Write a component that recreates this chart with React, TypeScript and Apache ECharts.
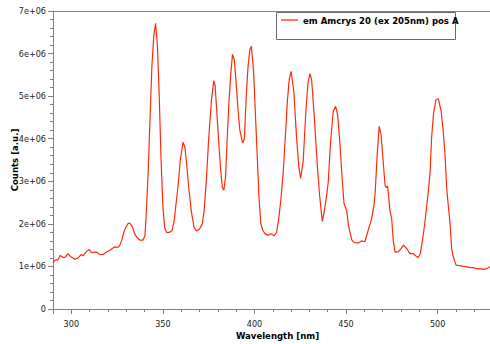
import React, { useEffect, useRef } from 'react';
import * as echarts from 'echarts';

const seriesName = 'em Amcrys 20 (ex 205nm) pos A';
const xAxisTitle = 'Wavelength [nm]';
const yAxisTitle = 'Counts [a.u.]';

const wavelengths = [
  290, 291.5, 292.7, 294, 295.5, 296.8, 298.2, 300, 301.9, 303.7,
  305.5, 306.5, 307.3, 308.6, 309.7, 311, 312.3, 313.7, 315.5, 317.3,
  319.2, 321, 323.7, 325.5, 326.5, 327.4, 328.5, 329.5, 331, 332,
  333.4, 334.6, 335.6, 337.4, 339.2, 340.2, 341, 342, 343, 344,
  345, 346, 347, 348, 349, 350, 351, 352, 353.5, 355,
  356.1, 357, 358.3, 359.5, 361, 362, 363, 364, 365.5, 367,
  368.4, 370, 371.5, 372.5, 373.8, 375, 376.5, 377.8, 378.5, 379.5,
  380.5, 381.6, 382.5, 383.3, 384.2, 385, 386, 387, 388, 389,
  390, 391.1, 392, 393.5, 394.5, 395.5, 396.5, 397.5, 398.3, 399.5,
  400.5, 401.5, 402.5, 403.5, 404.5, 405.7, 407.5, 409, 410.8, 412.1,
  413.2, 414.5, 415.7, 416.6, 418, 419, 420, 421.5, 423, 424.3,
  425.2, 426.6, 428, 429.2, 430.3, 431.2, 432.6, 434.3, 435.5, 437,
  438.1, 439.2, 440.3, 441.5, 443, 444.3, 445.4, 446.7, 447.8, 448.9,
  450.3, 451.2, 452.1, 453.2, 454.5, 456.7, 458.5, 460.3, 462.1, 464,
  465.4, 466, 467, 468.1, 469.1, 470.2, 471.3, 472, 472.7, 474,
  474.9, 475.8, 476.7, 478.5, 480, 481.3, 482.2, 483.1, 484.9, 486.7,
  488, 489.4, 490.5, 491.3, 492.2, 493.1, 494.9, 495.9, 496.7, 497.8,
  499.1, 500.4, 501.9, 503, 504, 505, 506.8, 507.7, 508.6, 510.1,
  512, 514.1, 516, 517.8, 519.5, 521.4, 523, 525, 527, 528.6,
];

const counts = [
  1.09e6, 1.16e6, 1.15e6, 1.26e6, 1.21e6, 1.22e6, 1.3e6, 1.22e6, 1.17e6, 1.2e6,
  1.28e6, 1.25e6, 1.3e6, 1.36e6, 1.4e6, 1.33e6, 1.33e6, 1.34e6, 1.28e6, 1.28e6,
  1.34e6, 1.38e6, 1.46e6, 1.45e6, 1.5e6, 1.6e6, 1.78e6, 1.9e6, 2.01e6, 2.01e6,
  1.93e6, 1.76e6, 1.69e6, 1.62e6, 1.62e6, 1.72e6, 2.3e6, 3.25e6, 4.5e6, 5.7e6,
  6.4e6, 6.71e6, 6.2e6, 5.0e6, 3.5e6, 2.4e6, 1.9e6, 1.8e6, 1.8e6, 1.84e6,
  2.05e6, 2.4e6, 2.9e6, 3.5e6, 3.92e6, 3.8e6, 3.4e6, 2.9e6, 2.3e6, 1.92e6,
  1.83e6, 1.88e6, 2.0e6, 2.3e6, 3.08e6, 4.0e6, 4.9e6, 5.36e6, 5.25e6, 4.6e6,
  3.9e6, 3.23e6, 2.85e6, 2.79e6, 3.1e6, 3.9e6, 4.8e6, 5.5e6, 5.98e6, 5.85e6,
  5.3e6, 4.64e6, 4.2e6, 3.9e6, 4.0e6, 5.0e6, 5.7e6, 6.1e6, 6.17e6, 5.6e6,
  4.6e6, 3.6e6, 2.6e6, 2.0e6, 1.85e6, 1.77e6, 1.73e6, 1.77e6, 1.72e6, 1.81e6,
  2.1e6, 2.6e6, 3.22e6, 3.86e6, 4.9e6, 5.4e6, 5.58e6, 5.11e6, 4.02e6, 3.31e6,
  3.07e6, 3.47e6, 4.6e6, 5.3e6, 5.53e6, 5.39e6, 4.56e6, 3.39e6, 2.7e6, 2.06e6,
  2.29e6, 2.6e6, 2.99e6, 3.9e6, 4.64e6, 4.76e6, 4.56e6, 3.86e6, 3.1e6, 2.48e6,
  2.32e6, 2.0e6, 1.81e6, 1.62e6, 1.56e6, 1.55e6, 1.6e6, 1.58e6, 1.85e6, 2.13e6,
  2.48e6, 2.8e6, 3.62e6, 4.29e6, 4.1e6, 3.5e6, 2.92e6, 2.85e6, 2.89e6, 2.3e6,
  2.13e6, 1.6e6, 1.34e6, 1.34e6, 1.42e6, 1.5e6, 1.47e6, 1.42e6, 1.3e6, 1.3e6,
  1.25e6, 1.21e6, 1.3e6, 1.5e6, 1.75e6, 2.05e6, 2.76e6, 3.22e6, 4.02e6, 4.6e6,
  4.92e6, 4.94e6, 4.65e6, 4.2e6, 3.64e6, 2.8e6, 2.0e6, 1.4e6, 1.22e6, 1.03e6,
  1.02e6, 1.0e6, 0.99e6, 0.97e6, 0.97e6, 0.95e6, 0.95e6, 0.93e6, 0.95e6, 0.99e6,
];

const X_MIN = 290;
const X_MAX = 528.6;
const Y_MIN = 0;
const Y_MAX = 7e6;
const Y_STEP = 1e6;

const FONT = '"DejaVu Sans Condensed", "DejaVu Sans", sans-serif';
const AXIS_GRAY = '#808080';
const LINE_RED = '#ff2a0a';

export default function App() {
  const ref = useRef<HTMLDivElement>(null);

  useEffect(() => {
    if (!ref.current) return;
    const chart = echarts.init(ref.current, undefined, { renderer: 'svg' });
    const data = wavelengths.map((w, i) => [w, counts[i]]);
    chart.setOption({
      animation: false,
      backgroundColor: '#ffffff',
      textStyle: { fontFamily: FONT },
      grid: { left: 53, right: 0, top: 11, bottom: 35, containLabel: false, outerBoundsMode: 'none' },
      graphic: [
        {
          type: 'rect',
          shape: { x: 276.5, y: 12.5, width: 179, height: 27 },
          style: { fill: '#ffffff', stroke: '#6a6a6a', lineWidth: 1 },
          z: 3,
        },
      ],
      legend: {
        show: true,
        left: 281,
        top: 15,
        padding: 0,
        icon: 'rect',
        itemWidth: 17,
        itemHeight: 1.3,
        itemGap: 5,
        data: [seriesName],
        textStyle: { fontFamily: FONT, fontWeight: 'bold', fontSize: 9.5, color: '#000' },
      },
      xAxis: [
        {
          type: 'value',
          min: X_MIN,
          max: X_MAX,
          splitNumber: 5,
          name: xAxisTitle,
          nameLocation: 'middle',
          nameGap: 21,
          nameMoveOverlap: false,
          nameTextStyle: {
            fontFamily: FONT,
            fontWeight: 'bold',
            fontSize: 9.5,
            color: '#000',
            padding: [0, 0, 0, 12],
          },
          axisLine: { show: true, lineStyle: { color: AXIS_GRAY, width: 1 } },
          axisTick: { show: true, length: 5, lineStyle: { color: AXIS_GRAY } },
          minorTick: { show: true, splitNumber: 5, length: 3, lineStyle: { color: AXIS_GRAY } },
          axisLabel: {
            show: true,
            margin: 10,
            showMinLabel: false,
            showMaxLabel: false,
            fontFamily: FONT,
            fontSize: 9,
            color: '#222',
          },
          splitLine: { show: false },
        },
        {
          type: 'value',
          position: 'top',
          min: X_MIN,
          max: X_MAX,
          axisLine: { show: true, lineStyle: { color: AXIS_GRAY, width: 1 } },
          axisTick: { show: false },
          axisLabel: { show: false },
          splitLine: { show: false },
        },
      ],
      yAxis: {
        type: 'value',
        min: Y_MIN,
        max: Y_MAX,
        interval: Y_STEP,
        name: yAxisTitle,
        nameLocation: 'middle',
        nameRotate: 90,
        nameGap: 34,
        nameMoveOverlap: false,
        nameTextStyle: { fontFamily: FONT, fontWeight: 'bold', fontSize: 9.5, color: '#000' },
        axisLine: { show: true, lineStyle: { color: AXIS_GRAY, width: 1 } },
        axisTick: { show: true, length: 5, lineStyle: { color: AXIS_GRAY } },
        minorTick: { show: true, splitNumber: 5, length: 3, lineStyle: { color: AXIS_GRAY } },
        axisLabel: {
          margin: 7,
          fontFamily: FONT,
          fontSize: 9,
          color: '#222',
          formatter: (v: number) => (v === 0 ? '0' : `${v / 1e6}e+06`),
        },
        splitLine: { show: false },
      },
      series: [
        {
          name: seriesName,
          type: 'line',
          xAxisIndex: 0,
          data,
          showSymbol: false,
          symbol: 'none',
          smooth: false,
          lineStyle: { color: LINE_RED, width: 1.2 },
          itemStyle: { color: LINE_RED },
        },
      ],
    });
    return () => chart.dispose();
  }, []);

  return (
    <div
      ref={ref}
      style={{ position: 'fixed', left: 0, top: 0, width: 490, height: 344 }}
    />
  );
}
